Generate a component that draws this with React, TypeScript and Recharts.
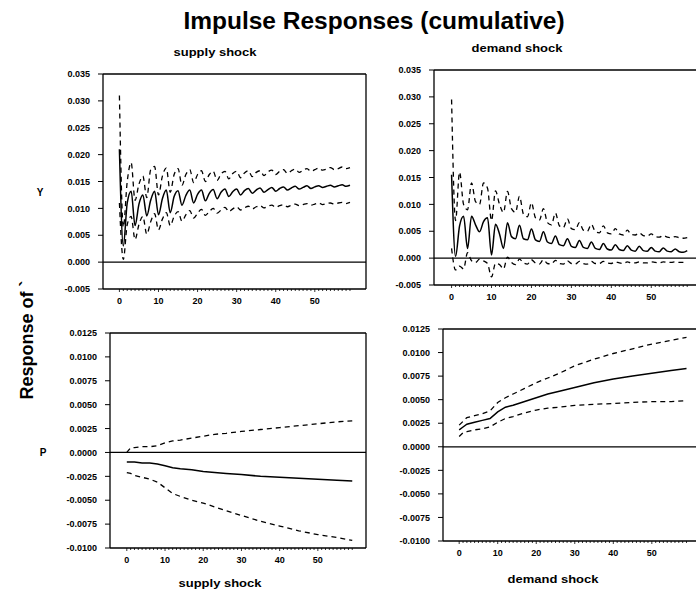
import React from "react";
import { LineChart, Line, XAxis, YAxis, ReferenceLine } from "recharts";

const FONT = "'Liberation Sans', Arial, Helvetica, sans-serif";

// horizon after the shock
const periods = [
  0, 1, 2, 3, 4, 5, 6, 7, 8, 9, 10, 11, 12, 13, 14, 15, 16, 17, 18, 19,
  20, 21, 22, 23, 24, 25, 26, 27, 28, 29, 30, 31, 32, 33, 34, 35, 36, 37, 38, 39,
  40, 41, 42, 43, 44, 45, 46, 47, 48, 49, 50, 51, 52, 53, 54, 55, 56, 57, 58, 59,
];

// Y, supply shock
const ySupplyMid = [
  0.0210, 0.0030, 0.0110, 0.0132, 0.0068, 0.0108, 0.0125, 0.0086, 0.0115, 0.0132,
  0.0088, 0.0118, 0.0134, 0.0092, 0.0122, 0.0133, 0.0106, 0.0124, 0.0134, 0.0110,
  0.0126, 0.0134, 0.0114, 0.0128, 0.0135, 0.0118, 0.0130, 0.0136, 0.0122, 0.0131,
  0.0136, 0.0125, 0.0133, 0.0137, 0.0128, 0.0134, 0.0138, 0.0130, 0.0135, 0.0139,
  0.0132, 0.0137, 0.0140, 0.0134, 0.0138, 0.0141, 0.0136, 0.0139, 0.0142, 0.0137,
  0.0140, 0.0142, 0.0139, 0.0141, 0.0143, 0.0140, 0.0142, 0.0144, 0.0141, 0.0143,
];
const ySupplyHi = [
  0.0310, 0.0065, 0.0150, 0.0185, 0.0115, 0.0145, 0.0160, 0.0120, 0.0172, 0.0178,
  0.0125, 0.0160, 0.0175, 0.0130, 0.0163, 0.0174, 0.0143, 0.0163, 0.0172, 0.0148,
  0.0163, 0.0170, 0.0150, 0.0163, 0.0169, 0.0152, 0.0164, 0.0169, 0.0155, 0.0165,
  0.0169, 0.0157, 0.0166, 0.0170, 0.0159, 0.0167, 0.0170, 0.0161, 0.0168, 0.0171,
  0.0163, 0.0169, 0.0172, 0.0165, 0.0170, 0.0173, 0.0167, 0.0171, 0.0174, 0.0169,
  0.0172, 0.0175, 0.0171, 0.0173, 0.0176, 0.0172, 0.0174, 0.0177, 0.0174, 0.0176,
];
const ySupplyLo = [
  0.0110, 0.0005, 0.0070, 0.0085, 0.0042, 0.0070, 0.0085, 0.0052, 0.0075, 0.0090,
  0.0060, 0.0080, 0.0092, 0.0068, 0.0085, 0.0094, 0.0076, 0.0088, 0.0096, 0.0082,
  0.0091, 0.0098, 0.0087, 0.0094, 0.0100, 0.0091, 0.0097, 0.0102, 0.0094, 0.0099,
  0.0103, 0.0097, 0.0101, 0.0104, 0.0099, 0.0103, 0.0105, 0.0101, 0.0104, 0.0106,
  0.0102, 0.0105, 0.0107, 0.0103, 0.0106, 0.0108, 0.0105, 0.0107, 0.0109, 0.0106,
  0.0108, 0.0110, 0.0107, 0.0109, 0.0110, 0.0108, 0.0110, 0.0111, 0.0109, 0.0111,
];

// Y, demand shock
const yDemandMid = [
  0.0155, 0.0003, 0.0060, 0.0078, 0.0018, 0.0078, 0.0062, 0.0049, 0.0068, 0.0075,
  0.0006, 0.0063, 0.0045, 0.0018, 0.0066, 0.0040, 0.0036, 0.0061, 0.0036, 0.0034,
  0.0054, 0.0034, 0.0031, 0.0049, 0.0030, 0.0027, 0.0041, 0.0025, 0.0023, 0.0036,
  0.0022, 0.0020, 0.0033, 0.0020, 0.0018, 0.0030, 0.0018, 0.0016, 0.0027, 0.0017,
  0.0015, 0.0025, 0.0016, 0.0014, 0.0023, 0.0015, 0.0013, 0.0022, 0.0014, 0.0013,
  0.0020, 0.0013, 0.0012, 0.0019, 0.0013, 0.0012, 0.0017, 0.0012, 0.0011, 0.0014,
];
const yDemandHi = [
  0.0295, 0.0070, 0.0160, 0.0100, 0.0090, 0.0140, 0.0105, 0.0100, 0.0140, 0.0130,
  0.0070, 0.0125, 0.0100, 0.0085, 0.0124, 0.0092, 0.0085, 0.0115, 0.0082, 0.0077,
  0.0103, 0.0075, 0.0071, 0.0092, 0.0066, 0.0062, 0.0084, 0.0060, 0.0057, 0.0073,
  0.0055, 0.0053, 0.0066, 0.0052, 0.0050, 0.0063, 0.0049, 0.0047, 0.0060, 0.0047,
  0.0045, 0.0055, 0.0045, 0.0043, 0.0052, 0.0044, 0.0043, 0.0047, 0.0042, 0.0041,
  0.0045, 0.0040, 0.0039, 0.0042, 0.0039, 0.0038, 0.0040, 0.0038, 0.0037, 0.0038,
];
const yDemandLo = [
  0.0018, -0.0022, -0.0015, -0.0020, 0.0010, -0.0005, -0.0008, -0.0002, -0.0005, -0.0010,
  -0.0035, -0.0010, -0.0012, -0.0020, 0.0002, -0.0008, -0.0012, -0.0002, -0.0009, -0.0011,
  -0.0003, -0.0009, -0.0011, -0.0003, -0.0010, -0.0011, -0.0004, -0.0010, -0.0011, -0.0005,
  -0.0010, -0.0011, -0.0006, -0.0010, -0.0011, -0.0006, -0.0010, -0.0010, -0.0006, -0.0009,
  -0.0010, -0.0007, -0.0009, -0.0010, -0.0007, -0.0009, -0.0009, -0.0007, -0.0009, -0.0009,
  -0.0007, -0.0008, -0.0009, -0.0007, -0.0008, -0.0008, -0.0007, -0.0008, -0.0008, -0.0007,
];

// P responses are smooth, so read at fewer horizons
const pPeriods = [0, 1, 2, 4, 6, 8, 10, 12, 14, 17, 20, 23, 26, 30, 35, 40, 45, 50, 55, 59];
const pSupplyMid = [
  -0.0010, -0.0010, -0.0010, -0.0011, -0.0011, -0.0012, -0.0014, -0.0016, -0.0017, -0.0018,
  -0.0020, -0.0021, -0.0022, -0.0023, -0.0025, -0.0026, -0.0027, -0.0028, -0.0029, -0.0030,
];
const pSupplyHi = [
  0.0000, 0.0005, 0.0005, 0.0006, 0.0006, 0.0007, 0.0010, 0.0012, 0.0013, 0.0015,
  0.0017, 0.0019, 0.0020, 0.0022, 0.0024, 0.0026, 0.0028, 0.0030, 0.0032, 0.0033,
];
const pSupplyLo = [
  -0.0021, -0.0022, -0.0024, -0.0026, -0.0028, -0.0031, -0.0037, -0.0043, -0.0046, -0.0050,
  -0.0053, -0.0057, -0.0061, -0.0066, -0.0072, -0.0077, -0.0082, -0.0086, -0.0089, -0.0092,
];
const pDemandMid = [
  0.0018, 0.0021, 0.0024, 0.0026, 0.0028, 0.0030, 0.0037, 0.0042, 0.0044, 0.0048,
  0.0052, 0.0056, 0.0059, 0.0063, 0.0068, 0.0072, 0.0075, 0.0078, 0.0081, 0.0083,
];
const pDemandHi = [
  0.0023, 0.0027, 0.0031, 0.0033, 0.0035, 0.0038, 0.0047, 0.0052, 0.0056, 0.0062,
  0.0068, 0.0073, 0.0078, 0.0086, 0.0093, 0.0099, 0.0104, 0.0109, 0.0113, 0.0116,
];
const pDemandLo = [
  0.0011, 0.0015, 0.0016, 0.0018, 0.0019, 0.0021, 0.0026, 0.0030, 0.0032, 0.0036,
  0.0039, 0.0041, 0.0042, 0.0044, 0.0045, 0.0046, 0.0047, 0.0048, 0.0048, 0.0049,
];

const yTicks = [-0.005, 0, 0.005, 0.01, 0.015, 0.02, 0.025, 0.03, 0.035];
const pTicks = [-0.01, -0.0075, -0.005, -0.0025, 0, 0.0025, 0.005, 0.0075, 0.01, 0.0125];
const xLabels = [0, 10, 20, 30, 40, 50];

const rows = (t: number[], mid: number[], hi: number[], lo: number[]) =>
  t.map((v, i) => ({ t: v, mid: mid[i], hi: hi[i], lo: lo[i] }));

function XTick(props: any) {
  const { x, y, payload } = props;
  const v = payload.value;
  const major = xLabels.includes(v);
  return (
    <g>
      <line x1={x} x2={x} y1={y} y2={y + (major ? 3 : 2)} stroke="#000" strokeWidth={0.8} />
      {major && (
        <text x={x} y={y + 15} textAnchor="middle" fontSize={9} fontWeight={700} fontFamily={FONT} fill="#000">
          {v}
        </text>
      )}
    </g>
  );
}

const YW = 60;
const XH = 24;
const MT = 4;
const MR = 4;

function Panel({ left, top, right, bottom, xDomain, yDomain, yTicks: ticks, digits, data, border = true, curve = "linear" }: any) {
  const plotW = right - left;
  const plotH = bottom - top;
  return (
    <div style={{ position: "absolute", left: left - YW, top: top - MT }}>
      <LineChart width={YW + plotW + MR} height={MT + plotH + XH} data={data} margin={{ top: MT, right: MR, bottom: 0, left: 0 }}>
        <XAxis
          dataKey="t" type="number" domain={xDomain} allowDataOverflow ticks={periods} interval={0}
          tick={<XTick />} tickLine={false} tickSize={0} tickMargin={0} height={XH}
          axisLine={{ stroke: "#000", strokeWidth: 1.3 }}
        />
        <YAxis
          type="number" domain={yDomain} allowDataOverflow ticks={ticks} interval={0} width={YW}
          tickSize={5} tickMargin={8} tickFormatter={(v: number) => v.toFixed(digits)}
          tick={{ fontSize: 9, fontWeight: 700, fill: "#000", fontFamily: FONT }}
          axisLine={{ stroke: "#000", strokeWidth: 1.3 }} tickLine={{ stroke: "#000" }}
        />
        <ReferenceLine y={yDomain[1]} stroke="#000" strokeWidth={1.6} />
        {border && <ReferenceLine x={xDomain[1]} stroke="#000" strokeWidth={1.3} />}
        <ReferenceLine y={0} stroke="#000" strokeWidth={1.3} />
        <Line type={curve} dataKey="hi" stroke="#000" strokeWidth={1.3} strokeDasharray="5 4" dot={false} isAnimationActive={false} />
        <Line type={curve} dataKey="lo" stroke="#000" strokeWidth={1.3} strokeDasharray="5 4" dot={false} isAnimationActive={false} />
        <Line type={curve} dataKey="mid" stroke="#000" strokeWidth={1.5} dot={false} isAnimationActive={false} />
      </LineChart>
    </div>
  );
}

function Label({ x, y, size, children, sx = 1, rotate = 0 }: any) {
  return (
    <div
      style={{
        position: "absolute", left: x, top: y, fontSize: size, fontWeight: 700, fontFamily: FONT,
        lineHeight: 1, whiteSpace: "nowrap", color: "#000",
        transform: `translate(-50%, -50%) rotate(${rotate}deg) scaleX(${sx})`,
      }}
    >
      {children}
    </div>
  );
}

export default function App() {
  return (
    <div style={{ position: "absolute", left: 0, top: 0, width: 696, height: 593, overflow: "hidden", background: "#fff" }}>
      <Label x={374} y={21} size={24.5}>Impulse Responses (cumulative)</Label>
      <Label x={215} y={52} size={11} sx={1.18}>supply shock</Label>
      <Label x={517} y={48} size={11} sx={1.18}>demand shock</Label>
      <Label x={27} y={340} size={18} rotate={-90}>Response of `</Label>
      <Label x={40} y={193} size={10}>Y</Label>
      <Label x={43} y={453} size={10}>P</Label>

      <Panel left={103} top={74} right={366} bottom={289} xDomain={[-4.2, 63.1]} yDomain={[-0.005, 0.035]}
        yTicks={yTicks} digits={3} data={rows(periods, ySupplyMid, ySupplyHi, ySupplyLo)} curve="monotone" />
      <Panel left={434} top={70} right={700} bottom={285} xDomain={[-4.4, 62.2]} yDomain={[-0.005, 0.035]}
        yTicks={yTicks} digits={3} data={rows(periods, yDemandMid, yDemandHi, yDemandLo)} border={false} curve="monotone" />
      <Panel left={110} top={333} right={366} bottom={548} xDomain={[-4.4, 62.6]} yDomain={[-0.01, 0.0125]}
        yTicks={pTicks} digits={4} data={rows(pPeriods, pSupplyMid, pSupplyHi, pSupplyLo)} />
      <Panel left={443} top={329} right={700} bottom={541} xDomain={[-4.2, 62.5]} yDomain={[-0.01, 0.0125]}
        yTicks={pTicks} digits={4} data={rows(pPeriods, pDemandMid, pDemandHi, pDemandLo)} border={false} />

      <Label x={220} y={583} size={11} sx={1.18}>supply shock</Label>
      <Label x={553} y={579} size={11} sx={1.18}>demand shock</Label>
    </div>
  );
}
